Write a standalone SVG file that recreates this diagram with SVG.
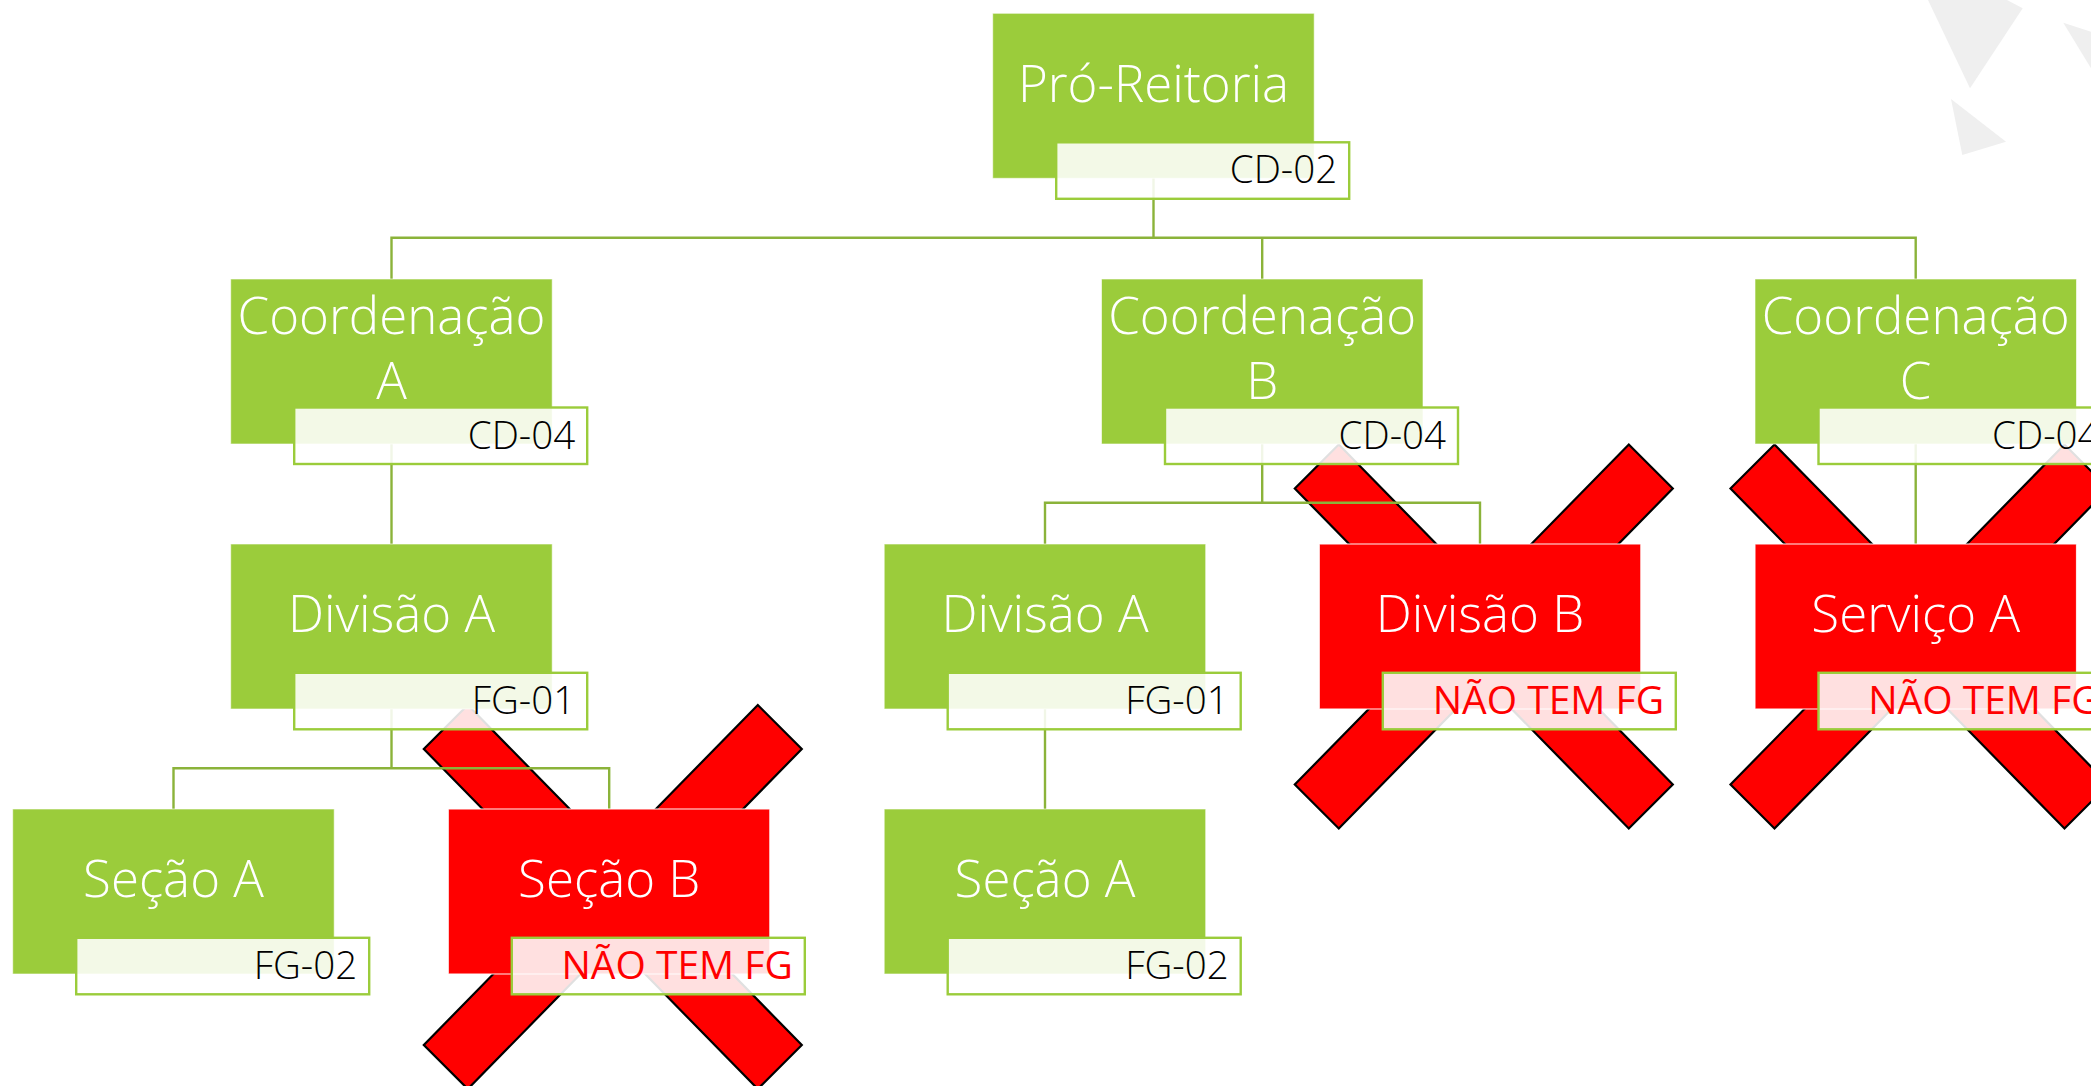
<svg xmlns="http://www.w3.org/2000/svg" width="2091" height="1086" viewBox="0 0 2091 1086">
<style>
.g{fill:#9BCC3B;stroke:#ffffff;stroke-width:1;stroke-opacity:0.6}
.r{fill:#FF0000;stroke:#ffffff;stroke-width:1.2;stroke-opacity:0.8}
.lb{fill:#ffffff;fill-opacity:0.88;stroke:#9BCC3B;stroke-width:2.4}
.t{font-family:"Open Sans","Liberation Sans",sans-serif;font-weight:300;font-size:51px;fill:#ffffff;text-anchor:middle}
.l{font-family:"Open Sans","Liberation Sans",sans-serif;font-weight:300;font-size:38.5px;fill:#000000;text-anchor:end}
.n{fill:#FF0000;font-weight:400;font-size:39px}
.x{fill:#FF0000;stroke:#000000;stroke-width:2.2;stroke-linejoin:miter}
.c{fill:none;stroke:#8BB33A;stroke-width:2.4}
.bg{fill:#EFEFEF}
</style>
<defs>
<polygon id="cross" points="-189,-148 -145,-192 0,-44 145,-192 189,-148 44,0 189,148 145,192 0,44 -145,192 -189,148 -44,0"/>
</defs>
<rect x="0" y="0" width="2091" height="1086" fill="#ffffff"/>
<g id="decor">
<polygon class="bg" points="1928,0 2007,0 2022.7,8.3 1970,88.3"/>
<polygon class="bg" points="1951,99 2006,141.7 1962.3,155"/>
<polygon class="bg" points="2063.3,22.7 2091,31.7 2091,68.3"/>
</g>
<g id="crosses">
<use href="#cross" class="x" x="612.8" y="897"/>
<use href="#cross" class="x" x="1483.8" y="636.5"/>
<use href="#cross" class="x" x="1919.5" y="636.5"/>
</g>
<g id="connectors">
<polyline class="c" points="1153.5,178 1153.5,237.7"/>
<polyline class="c" points="391.5,279 391.5,237.7 1915.7,237.7 1915.7,279"/>
<polyline class="c" points="1262.2,237.7 1262.2,279"/>
<polyline class="c" points="391.5,444 391.5,544"/>
<polyline class="c" points="1262.2,444 1262.2,502.7"/>
<polyline class="c" points="1045,544 1045,502.7 1480,502.7 1480,544"/>
<polyline class="c" points="1915.7,444 1915.7,544"/>
<polyline class="c" points="391.5,708.3 391.5,768.3"/>
<polyline class="c" points="173.5,809 173.5,768.3 609.2,768.3 609.2,809"/>
<polyline class="c" points="1045,708.3 1045,809"/>
</g>
<g id="pro-reitoria">
<rect class="g" x="992.7" y="13.3" width="321.5" height="165"/>
<rect class="lb" x="1056.2" y="142.3" width="293" height="56.5"/>
<text class="t" x="1153.5" y="101.7">Pró-Reitoria</text>
<text class="l" x="1337.2" y="182.8">CD-02</text>
</g>
<g id="coord-a">
<rect class="g" x="230.7" y="279" width="321.5" height="165"/>
<rect class="lb" x="294.2" y="407.5" width="293" height="56.5"/>
<text class="t" x="391.5" y="334.3">Coordenação</text>
<text class="t" x="391.5" y="399.3">A</text>
<text class="l" x="575.2" y="448.5">CD-04</text>
</g>
<g id="coord-b">
<rect class="g" x="1101.5" y="279" width="321.5" height="165"/>
<rect class="lb" x="1165" y="407.5" width="293" height="56.5"/>
<text class="t" x="1262.2" y="334.3">Coordenação</text>
<text class="t" x="1262.2" y="399.3">B</text>
<text class="l" x="1446" y="448.5">CD-04</text>
</g>
<g id="coord-c">
<rect class="g" x="1755" y="279" width="321.5" height="165"/>
<rect class="lb" x="1818.5" y="407.5" width="293" height="56.5"/>
<text class="t" x="1915.7" y="334.3">Coordenação</text>
<text class="t" x="1915.7" y="399.3">C</text>
<text class="l" x="2099.5" y="448.5">CD-04</text>
</g>
<g id="divisao-a-1">
<rect class="g" x="230.7" y="544" width="321.5" height="165"/>
<rect class="lb" x="294.2" y="672.8" width="293" height="56.5"/>
<text class="t" x="391.5" y="631.7">Divisão A</text>
<text class="l" x="575.2" y="713.8">FG-01</text>
</g>
<g id="divisao-a-2">
<rect class="g" x="884.2" y="544" width="321.5" height="165"/>
<rect class="lb" x="947.7" y="672.8" width="293" height="56.5"/>
<text class="t" x="1045" y="631.7">Divisão A</text>
<text class="l" x="1228.7" y="713.8">FG-01</text>
</g>
<g id="divisao-b">
<rect class="r" x="1319.3" y="544" width="321.5" height="165"/>
<rect class="lb" x="1382.8" y="672.8" width="293" height="56.5"/>
<text class="t" x="1480" y="631.7">Divisão B</text>
<text class="l n" x="1664" y="714">NÃO TEM FG</text>
</g>
<g id="servico-a">
<rect class="r" x="1755" y="544" width="321.5" height="165"/>
<rect class="lb" x="1818.5" y="672.8" width="293" height="56.5"/>
<text class="t" x="1915.7" y="631.7">Serviço A</text>
<text class="l n" x="2099.5" y="714">NÃO TEM FG</text>
</g>
<g id="secao-a-1">
<rect class="g" x="12.7" y="809" width="321.5" height="165"/>
<rect class="lb" x="76.2" y="937.8" width="293" height="56.5"/>
<text class="t" x="173.5" y="897.3">Seção A</text>
<text class="l" x="357.2" y="978.8">FG-02</text>
</g>
<g id="secao-b">
<rect class="r" x="448.3" y="809" width="321.5" height="165"/>
<rect class="lb" x="511.8" y="937.8" width="293" height="56.5"/>
<text class="t" x="609.2" y="897.3">Seção B</text>
<text class="l n" x="792.8" y="979">NÃO TEM FG</text>
</g>
<g id="secao-a-2">
<rect class="g" x="884.2" y="809" width="321.5" height="165"/>
<rect class="lb" x="947.7" y="937.8" width="293" height="56.5"/>
<text class="t" x="1045" y="897.3">Seção A</text>
<text class="l" x="1228.7" y="978.8">FG-02</text>
</g>
</svg>
